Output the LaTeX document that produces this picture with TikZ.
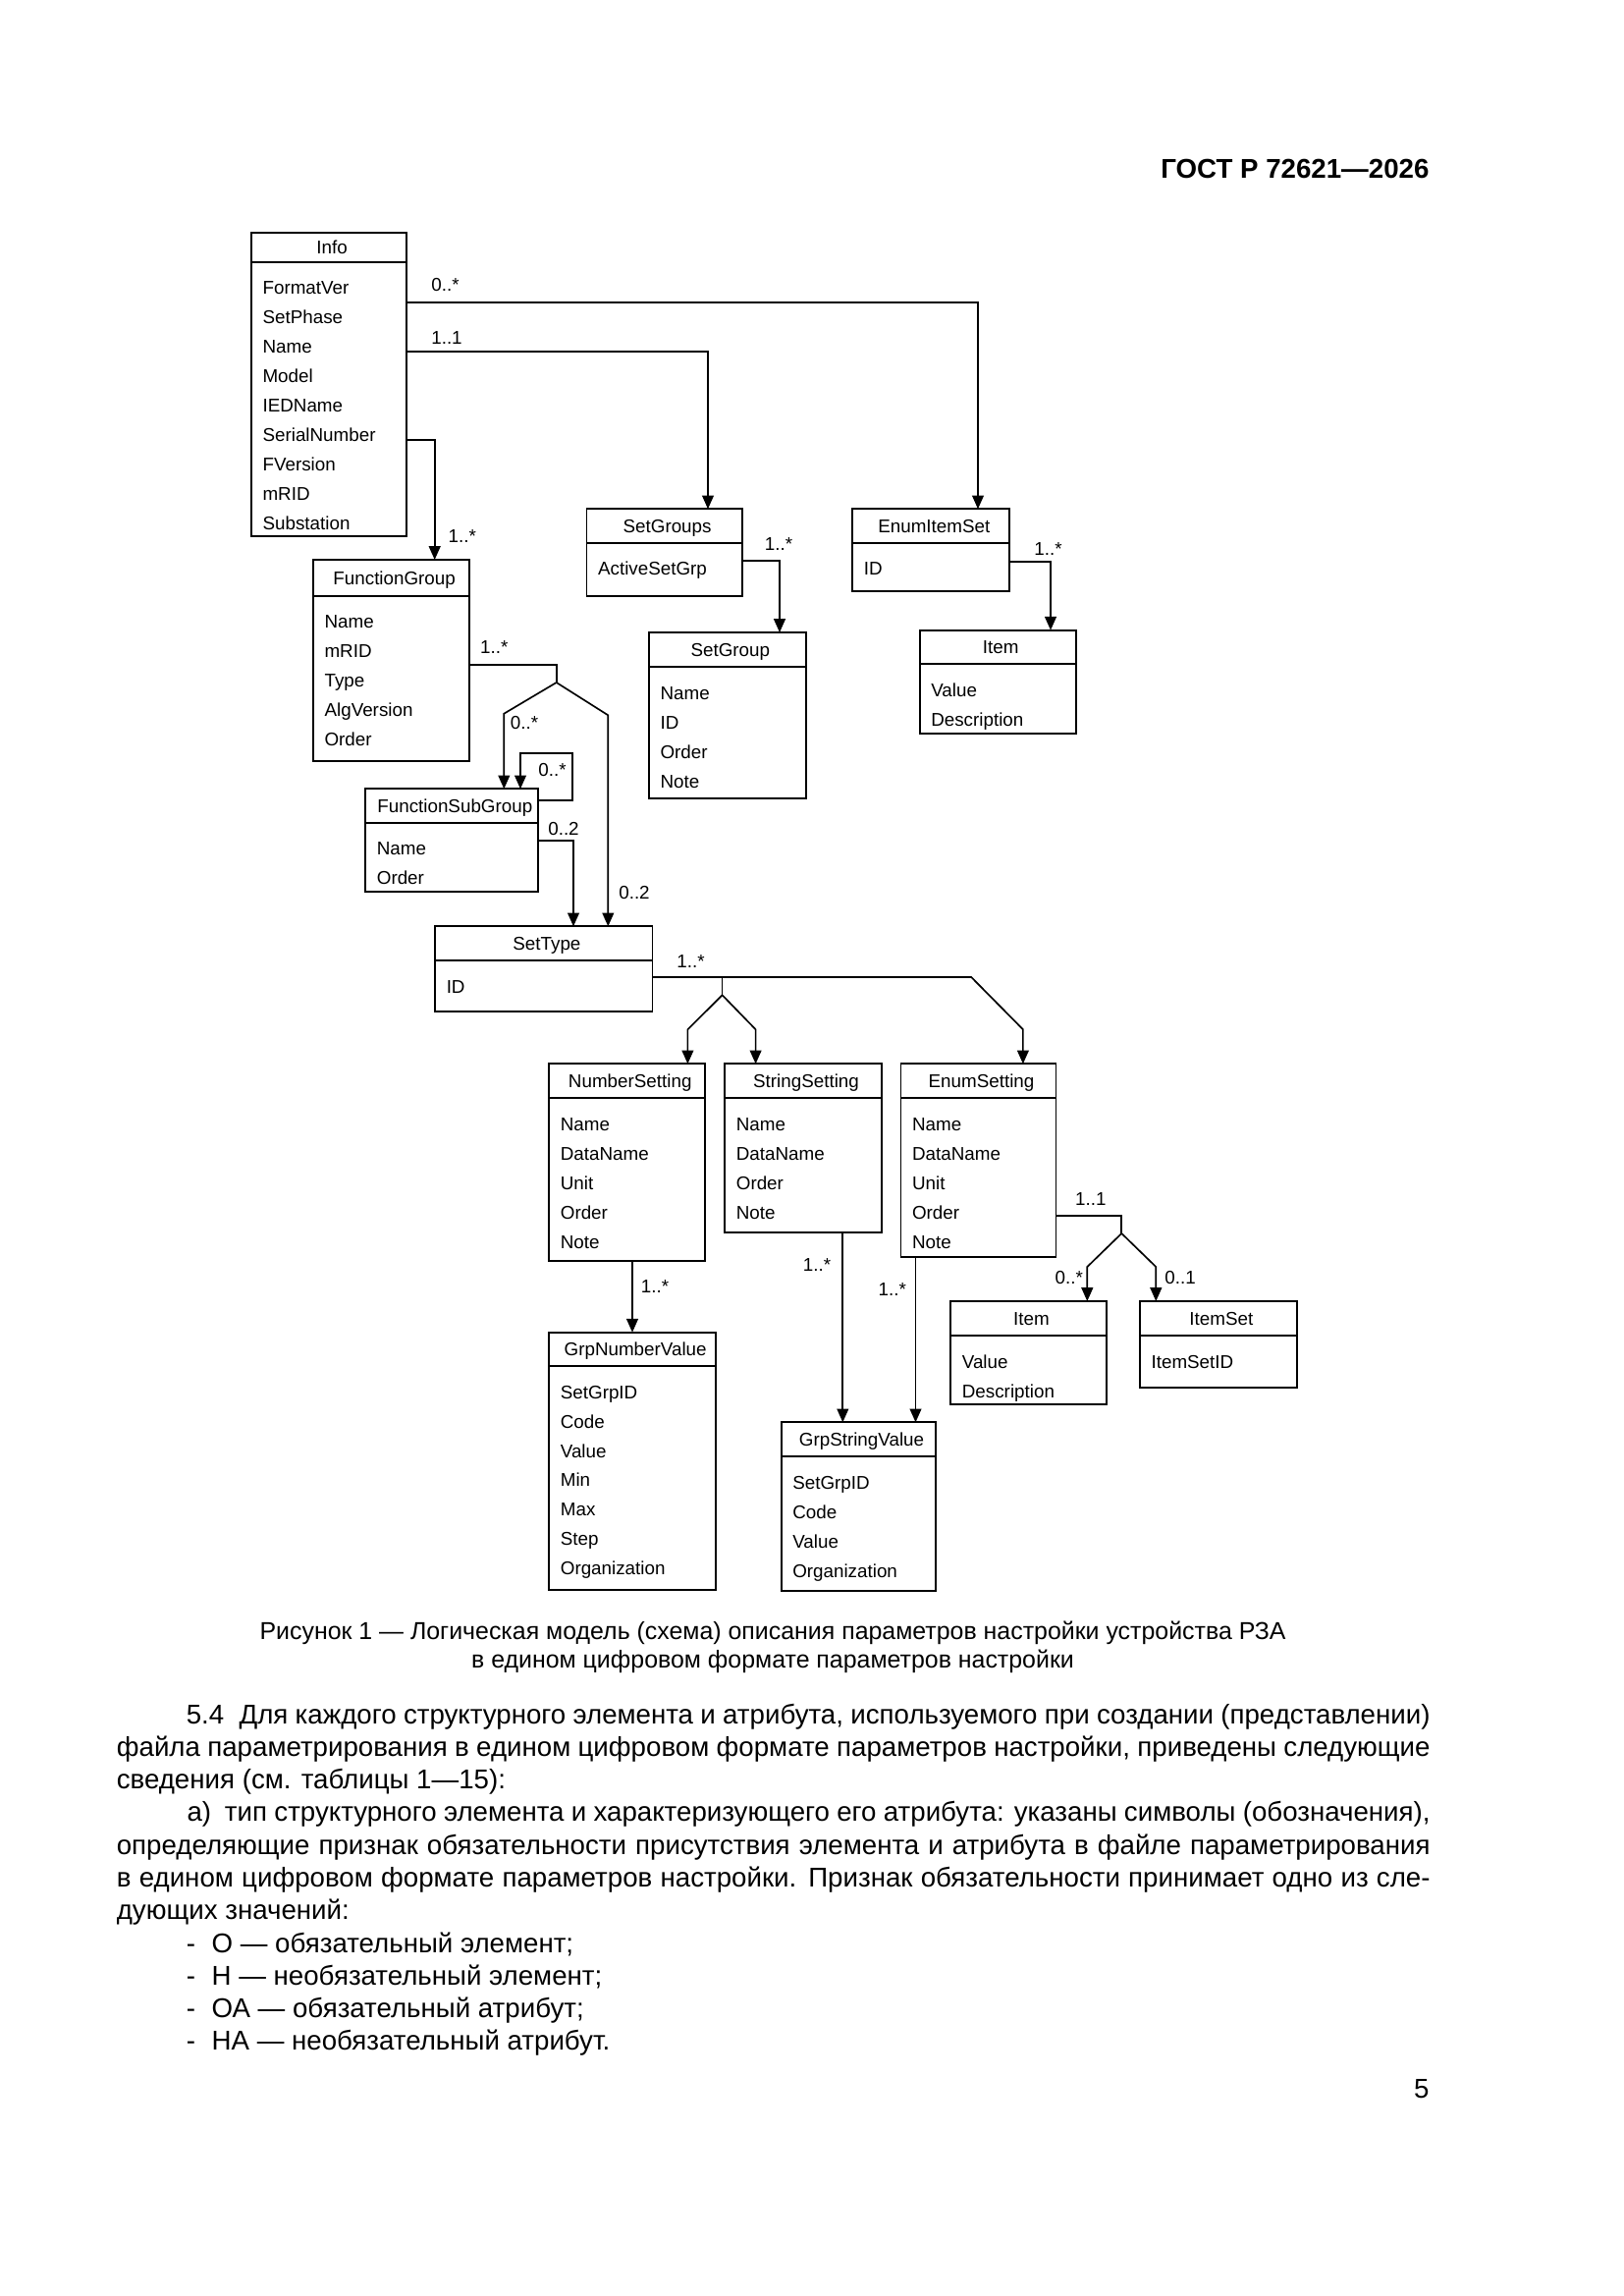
\documentclass[tikz,border=0pt]{standalone}
\usepackage{fontspec}
\setmainfont{Liberation Sans}
\usetikzlibrary{arrows.meta,calc,fit}
\newlength\px
\setlength\px{0.127mm}
% #1 name, #2 x1, #3 y1, #4 x2, #5 header bottom, #6 y2, #7 title, #8 attributes
\newcommand\umlclass[8]{%
  \path (#2,#3) coordinate (#1-nw) (#4,#6) coordinate (#1-se);
  \node[box, fit=(#1-nw)(#1-se)] (#1) {};
  \draw[conn] (#1.west |- 0,#5) -- (#1.east |- 0,#5);
  \node[dtxt] (#1-t) at ({(#2+#4)/2+3},{(#3+#5)/2}) {#7};
  \foreach \a [count=\i] in {#8} {\node[dtxt, anchor=west] (#1-a\i) at ({#2+11},{#5+26.5+(\i-1)*29.9}) {\a};}
}
\begin{document}
\begin{tikzpicture}[x=0.127mm,y=-0.127mm,
  box/.style={draw, line width=0.6pt, inner sep=0pt, outer sep=0pt},
  conn/.style={line width=0.6pt},
  arr/.style={conn, -{Triangle[length=1.75mm,width=1.5mm]}},
  dtxt/.style={font=\fontsize{6.8}{8}\selectfont, inner sep=0pt, text height=4.9pt, text depth=0pt},
  mult/.style={dtxt},
  btxt/.style={font=\fontsize{10}{12}\selectfont, inner sep=0pt, anchor=west, text height=7.2pt, text depth=0pt},
  ctxt/.style={font=\fontsize{9}{11}\selectfont, inner sep=0pt, text height=6.5pt, text depth=0pt},
]
\useasboundingbox (0,0) rectangle (1653,2338);

% header
\node[anchor=east, font=\bfseries\fontsize{10}{12}\selectfont, inner sep=0pt, text height=7.2pt, text depth=0pt] (hdr) at (1456,172) {ГОСТ Р 72621—2026};

% classes
\umlclass{info}{256}{237.3}{414.3}{266.7}{546}{Info}{FormatVer,SetPhase,Name,Model,IEDName,SerialNumber,FVersion,mRID,Substation}
\umlclass{fg}{319}{570}{478.3}{606.7}{775}{FunctionGroup}{Name,mRID,Type,AlgVersion,Order}
\umlclass{fsg}{372.3}{803.3}{548.3}{837.7}{908.3}{FunctionSubGroup}{Name,Order}
\umlclass{sgs}{597.5}{518.3}{755.7}{552.7}{606.7}{SetGroups}{ActiveSetGrp}
\umlclass{sg}{661}{644}{820.7}{679.3}{813.3}{SetGroup}{Name,ID,Order,Note}
\umlclass{eis}{868.3}{518.3}{1028.3}{552.7}{602.3}{EnumItemSet}{ID}
\umlclass{itema}{936.7}{641.7}{1095.7}{676}{746.7}{Item}{Value,Description}
\umlclass{st}{443.2}{943.3}{664.6}{978.3}{1030}{SetType}{ID}
\umlclass{ns}{559.3}{1083.3}{718.2}{1118.3}{1284}{NumberSetting}{Name,DataName,Unit,Order,Note}
\umlclass{ss}{738.3}{1083.3}{897.7}{1118.3}{1255}{StringSetting}{Name,DataName,Order,Note}
\umlclass{es}{917.5}{1083.3}{1075.5}{1118.3}{1280}{EnumSetting}{Name,DataName,Unit,Order,Note}
\umlclass{itemb}{968.3}{1325}{1126.7}{1360}{1430}{Item}{Value,Description}
\umlclass{iset}{1161}{1325}{1320.7}{1360}{1412.7}{ItemSet}{ItemSetID}
\umlclass{gnv}{559.3}{1356.7}{729}{1391}{1619.3}{GrpNumberValue}{SetGrpID,Code,Value,Min,Max,Step,Organization}
\umlclass{gsv}{795.7}{1448.3}{953.3}{1483.3}{1620}{GrpStringValue}{SetGrpID,Code,Value,Organization}

% connectors
\draw[arr] (info.east |- 0,308.3) -| (eis.north -| 996,0);
\draw[arr] (info.east |- 0,358.3) -| (sgs.north -| 721,0);
\draw[arr] (info.east |- 0,448.3) -| (fg.north -| 442.7,0);
\draw[arr] (sgs.east |- 0,570.7) -| (sg.north -| 794,0);
\draw[arr] (eis.east |- 0,571.7) -| (itema.north -| 1070,0);

\coordinate (fork1) at (566.7,695);
\draw[conn] (fg.east |- 0,676.7) -| (fork1);
\draw[arr] (fork1) -- (513.3,726.7) -- (fsg.north -| 513.3,0);
\draw[arr] (fork1) -- (619.3,728.3) -- (st.north -| 619.3,0);
\draw[arr] (fsg.east |- 0,815) -- (583.3,815) -- (583.3,767.3) -- (530,767.3) -- (fsg.north -| 530,0);
\draw[arr] (fsg.east |- 0,856) -| (st.north -| 584,0);

\coordinate (fork2) at (735.6,1013.3);
\draw[arr] (st.east |- 0,995) -- (989.2,995) -- (1041.9,1048.3) -- (es.north -| 1041.9,0);
\draw[conn] (fork2 |- 0,995) -- (fork2);
\draw[arr] (fork2) -- (700.4,1048.3) -- (ns.north -| 700.4,0);
\draw[arr] (fork2) -- (769.6,1048.3) -- (ss.north -| 769.6,0);

\draw[arr] (ns.south -| 644,0) -- (gnv.north -| 644,0);
\draw[arr] (ss.south -| 858.3,0) -- (gsv.north -| 858.3,0);
\draw[arr] (es.south -| 932.5,0) -- (gsv.north -| 932.5,0);

\coordinate (fork3) at (1142.3,1256);
\draw[conn] (es.east |- 0,1237.7) -| (fork3);
\draw[arr] (fork3) -- (1107.3,1290) -- (itemb.north -| 1107.3,0);
\draw[arr] (fork3) -- (1177.3,1290) -- (iset.north -| 1177.3,0);

% multiplicities
\node[mult] (m1) at (453.5,290) {0..*};
\node[mult] (m2) at (455,344) {1..1};
\node[mult] (m3) at (470.8,545.5) {1..*};
\node[mult] (m4) at (793,554) {1..*};
\node[mult] (m5) at (1067.5,558.3) {1..*};
\node[mult] (m6) at (503.3,659) {1..*};
\node[mult] (m7) at (534,735.5) {0..*};
\node[mult] (m8) at (562.5,784) {0..*};
\node[mult] (m9) at (574,844) {0..2};
\node[mult] (m10) at (646,908.7) {0..2};
\node[mult] (m11) at (703.5,979) {1..*};
\node[mult] (m12) at (667,1310) {1..*};
\node[mult] (m13) at (832,1287.5) {1..*};
\node[mult] (m14) at (908.8,1313) {1..*};
\node[mult] (m15) at (1110.8,1221) {1..1};
\node[mult] (m16) at (1088.8,1300.8) {0..*};
\node[mult] (m17) at (1202,1300.8) {0..1};

% caption
\node[ctxt] (cap1) at (787,1660) {Рисунок 1 — Логическая модель (схема) описания параметров настройки устройства РЗА};
\node[ctxt] (cap2) at (787,1689) {в едином цифровом формате параметров настройки};

% body text
\node[btxt] (p1) at (189.3,1746) {\makebox[1266.7\px][s]{5.4\hskip 0.55em Для каждого структурного элемента и атрибута, используемого при создании (представлении)}};
\node[btxt] (p2) at (118.3,1779) {\makebox[1337.7\px][s]{файла параметрирования в едином цифровом формате параметров настройки, приведены следующие}};
\node[btxt] (p3) at (118.3,1812) {сведения (см. таблицы 1—15):};
\node[btxt] (p4) at (190,1845) {\makebox[1266\px][s]{а)\hskip 0.5em тип структурного элемента и характеризующего его атрибута: указаны символы (обозначения),}};
\node[btxt] (p5) at (118.3,1879) {\makebox[1337.7\px][s]{определяющие признак обязательности присутствия элемента и атрибута в файле параметрирования}};
\node[btxt] (p6) at (118.3,1912) {\makebox[1337.7\px][s]{в едином цифровом формате параметров настройки. Признак обязательности принимает одно из сле-}};
\node[btxt] (p7) at (118.3,1945) {дующих значений:};
\node[btxt] (p8) at (189.3,1979) {-\hskip 0.6em О — обязательный элемент;};
\node[btxt] (p9) at (189.3,2012) {-\hskip 0.6em Н — необязательный элемент;};
\node[btxt] (p10) at (189.3,2045) {-\hskip 0.6em ОА — обязательный атрибут;};
\node[btxt] (p11) at (189.3,2078) {-\hskip 0.6em НА — необязательный атрибут.};
\node[btxt, anchor=east] (pg) at (1456,2127) {5};
\end{tikzpicture}
\end{document}
